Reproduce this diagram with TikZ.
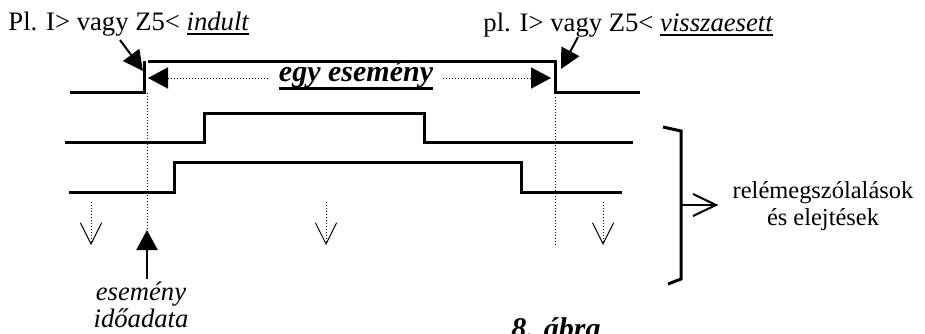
\documentclass[tikz,border=0pt]{standalone}
\usepackage{fontspec}
\setmainfont{Liberation Serif}
\usetikzlibrary{arrows.meta}
\newcommand\myul[3]{\setbox0\hbox{#3}\rlap{\rule[-#1]{\wd0}{#2}}\box0}
\begin{document}
\begin{tikzpicture}[x=0.45pt,y=-0.45pt,
  sig/.style={line width=1.35pt,line join=miter},
  dotl/.style={line width=0.45pt,dash pattern=on 0.45pt off 0.9pt},
  bigtip/.style={-{Triangle[length=9pt,width=9.5pt]}},
  diagtip/.style={line width=0.9pt,-{Triangle[length=9pt,width=9pt]}},
  downar/.style={dotl,-{Straight Barb[length=9.5pt,width=9.5pt,line width=0.45pt]}},
  txt/.style={inner sep=0pt,font=\fontsize{12}{14}\selectfont},
  bigtxt/.style={inner sep=0pt,font=\fontsize{13.5}{16}\selectfont\bfseries\itshape}]
\useasboundingbox (0,0) rectangle (925,333);
% signal 1
\coordinate (s1a) at (70,92);
\coordinate (s1b) at (144,92);
\coordinate (s1c) at (144,61);
\coordinate (s1d) at (148,61);
\coordinate (s1e) at (555,61);
\coordinate (s1f) at (555,92);
\coordinate (s1g) at (640,92);
\draw[sig] (s1a) -- (s1b) -- (s1c);
\draw[sig] (s1d) -- (s1e) -- (s1f) -- (s1g);
% signal 2
\coordinate (s2a) at (65,142);
\coordinate (s2b) at (204,142);
\coordinate (s2c) at (204,113);
\coordinate (s2d) at (424,113);
\coordinate (s2e) at (424,142);
\coordinate (s2f) at (633,142);
\draw[sig] (s2a) -- (s2b) -- (s2c) -- (s2d) -- (s2e) -- (s2f);
% signal 3
\coordinate (s3a) at (69,192);
\coordinate (s3b) at (174,192);
\coordinate (s3c) at (174,162);
\coordinate (s3d) at (521,162);
\coordinate (s3e) at (521,192);
\coordinate (s3f) at (622,192);
\draw[sig] (s3a) -- (s3b) -- (s3c) -- (s3d) -- (s3e) -- (s3f);
% dotted verticals
\coordinate (v1a) at (147,93);
\coordinate (v1b) at (147,230);
\coordinate (v2a) at (555,97);
\coordinate (v2b) at (555,246);
\draw[dotl] (v1a) -- (v1b);
\draw[dotl] (v2a) -- (v2b);
% up arrow
\coordinate (up0) at (147,279);
\draw[line width=0.9pt,bigtip] (up0) -- (v1b);
% event arrows
\coordinate (e1s) at (268,78);
\coordinate (e1t) at (148,78);
\coordinate (e2s) at (443,78);
\coordinate (e2t) at (551,78);
\draw[dotl,bigtip] (e1s) -- (e1t);
\draw[dotl,bigtip] (e2s) -- (e2t);
% texts
\node[txt,anchor=base west] (tl) at (8,30) {Pl. I> vagy Z5< \myul{2.1pt}{0.9pt}{\itshape indult}};
\node[txt,anchor=base west] (tr) at (483,31) {pl. I> vagy Z5< \myul{2.1pt}{0.9pt}{\itshape visszaesett}};
\node[bigtxt,anchor=base] (egy) at (356,81) {\myul{4pt}{1.35pt}{egy esemény}};
\node[txt,anchor=base,font=\fontsize{12}{14}\selectfont\itshape] (ev1) at (141,300) {esemény};
\node[txt,anchor=base,font=\fontsize{12}{14}\selectfont\itshape] (ev2) at (141,327) {időadata};
\node[txt,anchor=base,font=\fontsize{11}{13}\selectfont] (r1) at (823,198) {relémegszólalások};
\node[txt,anchor=base,font=\fontsize{11}{13}\selectfont] (r2) at (823,225) {és elejtések};
\node[bigtxt,anchor=base] (fig) at (556,338) {8. ábra};
% diagonal arrows
\coordinate (d1s) at (120,40);
\coordinate (d1t) at (143,71);
\coordinate (d2s) at (578,37);
\coordinate (d2t) at (561,69);
\draw[diagtip] (d1s) -- (d1t);
\draw[diagtip] (d2s) -- (d2t);
% down arrows
\foreach \x/\n in {91/a,326/b,603/c}{
  \coordinate (da\n) at (\x,202);
  \coordinate (db\n) at (\x,245);
  \draw[downar] (da\n) -- (db\n);
}
% bracket
\coordinate (b1) at (663,127);
\coordinate (b2) at (681,131);
\coordinate (b3) at (681,279);
\coordinate (b4) at (668,284);
\draw[sig] (b1) -- (b2) -- (b3) -- (b4);
\coordinate (g0) at (681,205);
\coordinate (g1) at (716,205);
\coordinate (g2) at (693,194);
\coordinate (g3) at (693,216);
\draw[line width=0.9pt] (g0) -- (g1);
\draw[line width=0.9pt,line join=miter] (g2) -- (g1) -- (g3);
\end{tikzpicture}
\end{document}
